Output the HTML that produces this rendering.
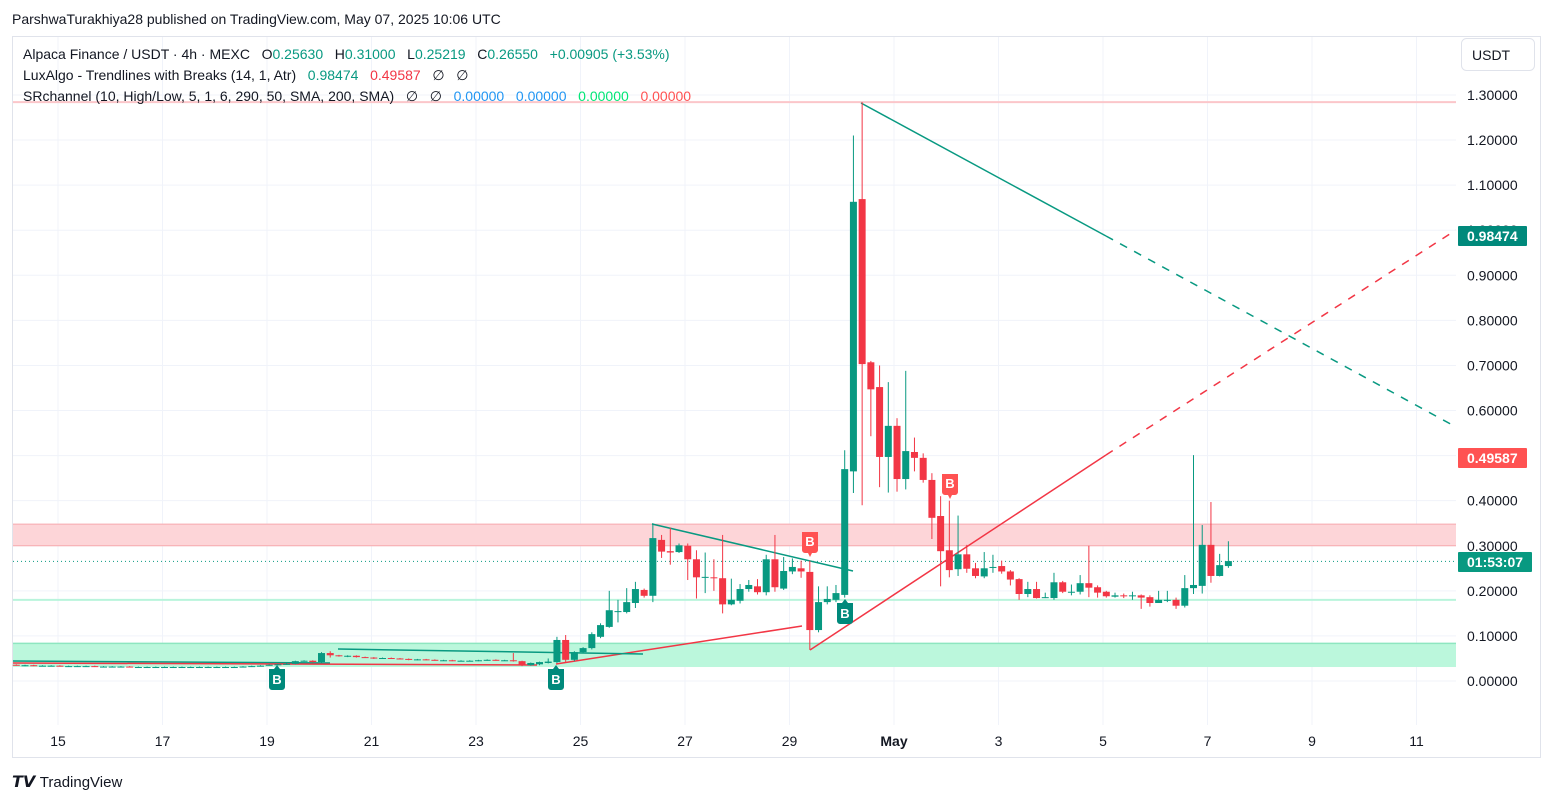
<!DOCTYPE html>
<html><head><meta charset="utf-8"><style>
body{margin:0;background:#fff;font-family:"Liberation Sans",sans-serif;}
svg{display:block}
text{white-space:pre}
</style></head><body>
<svg id="c" width="1554" height="803" xmlns="http://www.w3.org/2000/svg" font-family="Liberation Sans, sans-serif">
<rect x="0" y="0" width="1554" height="803" fill="#fff"/>
<text x="12" y="24" font-size="14" fill="#131722">ParshwaTurakhiya28 published on TradingView.com, May 07, 2025 10:06 UTC</text>
<rect x="12.5" y="36.5" width="1528" height="721" fill="none" stroke="#e0e3eb"/>
<g id="grid"></g>
<g id="zones"></g>
<g id="lines"></g>
<g id="candles"></g>
<g id="labels"></g>
<g id="axis"></g>
<g id="taxis"></g>
<g font-size="14">
<text x="23" y="59" fill="#131722" xml:space="preserve">Alpaca Finance / USDT · 4h · MEXC   O<tspan fill="#089981">0.25630</tspan>   H<tspan fill="#089981">0.31000</tspan>   L<tspan fill="#089981">0.25219</tspan>   C<tspan fill="#089981">0.26550</tspan>   <tspan fill="#089981">+0.00905 (+3.53%)</tspan></text>
<text x="23" y="80" fill="#131722" xml:space="preserve">LuxAlgo - Trendlines with Breaks (14, 1, Atr)   <tspan fill="#089981">0.98474</tspan>   <tspan fill="#f23645">0.49587</tspan>   ∅   ∅</text>
<text x="23" y="101" fill="#131722" xml:space="preserve">SRchannel (10, High/Low, 5, 1, 6, 290, 50, SMA, 200, SMA)   ∅   ∅   <tspan fill="#2196f3">0.00000</tspan>   <tspan fill="#2196f3">0.00000</tspan>   <tspan fill="#00e676">0.00000</tspan>   <tspan fill="#ff5252">0.00000</tspan></text>
</g>
<rect x="1461.5" y="38.5" width="73" height="32" rx="5" fill="#fff" stroke="#e0e3eb"/>
<text x="1472" y="60" font-size="14" fill="#131722">USDT</text>
<text x="12" y="787" font-size="16" font-weight="bold" fill="#131722">𝙏𝙑 <tspan font-weight="normal" font-size="15">TradingView</tspan></text>
</svg>
<script>
const opens =[.036,.035,.035,.034,.034,.034,.033,.033,.033,.033,.032,.032,.032,.032,.031,.031,.031,.031,.031,.031,.031,.031,.031,.031,.031,.031,.032,.032,.033,.034,.036,.037,.038,.044,.045,.042,.062,.057,.055,.056,.053,.052,.050,.051,.050,.049,.047,.048,.047,.046,.046,.045,.045,.045,.046,.047,.046,.046,.044,.035,.037,.040,.042,.091,.047,.064,.073,.098,.120,.155,.153,.173,.202,.189,.313,.288,.286,.300,.270,.230,.230,.228,.170,.178,.204,.210,.197,.270,.205,.243,.250,.242,.113,.175,.180,.191,.465,1.069,.707,.652,.497,.566,.448,.508,.495,.446,.366,.290,.248,.281,.250,.232,.253,.255,.243,.226,.193,.204,.186,.184,.219,.198,.198,.217,.208,.198,.187,.190,.190,.190,.186,.173,.180,.180,.167,.206,.211,.302,.233,.255];
const closes=[.035,.035,.034,.034,.034,.033,.033,.033,.033,.032,.032,.032,.032,.031,.031,.031,.031,.031,.031,.031,.031,.031,.031,.031,.031,.031,.032,.033,.034,.036,.037,.038,.044,.045,.042,.062,.057,.055,.056,.053,.052,.050,.051,.050,.049,.047,.048,.047,.046,.046,.045,.045,.045,.046,.047,.046,.046,.044,.035,.040,.042,.043,.091,.047,.064,.073,.104,.124,.157,.155,.175,.204,.189,.317,.287,.285,.301,.270,.230,.231,.229,.170,.180,.204,.213,.197,.270,.208,.244,.253,.243,.113,.175,.182,.195,.470,1.063,.703,.647,.497,.566,.448,.510,.495,.446,.362,.288,.246,.281,.249,.233,.250,.253,.243,.225,.193,.204,.184,.186,.219,.198,.198,.217,.207,.196,.188,.190,.188,.190,.185,.173,.180,.180,.167,.206,.213,.302,.233,.257,.266];
const highs =[.037,.036,.036,.035,.035,.035,.034,.034,.034,.034,.033,.033,.033,.033,.032,.032,.032,.032,.032,.032,.032,.032,.032,.032,.032,.032,.033,.034,.035,.037,.038,.040,.045,.046,.046,.064,.066,.058,.057,.057,.054,.053,.052,.052,.051,.050,.049,.049,.048,.047,.047,.046,.046,.047,.048,.048,.047,.062,.045,.041,.043,.050,.098,.102,.066,.075,.108,.128,.200,.180,.206,.220,.205,.350,.324,.340,.305,.305,.290,.285,.270,.324,.227,.215,.224,.226,.280,.324,.275,.272,.267,.267,.210,.210,.213,.512,1.210,1.284,.710,.700,.663,.583,.688,.540,.505,.461,.410,.400,.367,.302,.262,.286,.280,.267,.246,.228,.220,.220,.196,.240,.222,.214,.235,.300,.212,.200,.196,.194,.198,.192,.190,.200,.200,.185,.235,.501,.346,.397,.282,.310];
const lows  =[.034,.033,.033,.033,.033,.032,.032,.032,.032,.031,.031,.031,.031,.030,.030,.030,.030,.030,.030,.030,.030,.030,.030,.030,.030,.030,.031,.032,.033,.034,.035,.036,.037,.043,.041,.041,.052,.054,.053,.052,.051,.049,.049,.049,.048,.046,.046,.046,.045,.045,.044,.044,.044,.044,.045,.045,.045,.043,.033,.034,.035,.039,.040,.042,.044,.062,.070,.095,.118,.130,.150,.162,.185,.175,.273,.258,.284,.224,.183,.195,.200,.150,.168,.172,.198,.192,.190,.198,.202,.237,.229,.069,.108,.170,.175,.185,.417,.390,.543,.430,.418,.420,.425,.465,.440,.315,.210,.230,.233,.240,.228,.228,.240,.238,.212,.180,.186,.183,.184,.180,.195,.190,.192,.186,.185,.185,.185,.184,.180,.160,.165,.178,.175,.160,.163,.193,.194,.218,.232,.251];
const priceTicks=[1.3,1.2,1.1,1.0,0.9,0.8,0.7,0.6,0.5,0.4,0.3,0.2,0.1,0.0];
const dayTicks=["15","17","19","21","23","25","27","29","May","3","5","7","9","11"];
const ns="http://www.w3.org/2000/svg";
const y=p=>681-p*450.8;
const xi=i=>16.3+i*8.72;
const xd=k=>58+k*104.5;
function mk(tag,attrs,parent,text){const e=document.createElementNS(ns,tag);for(const k in attrs)e.setAttribute(k,attrs[k]);if(text!==undefined)e.textContent=text;parent.appendChild(e);return e;}
const G=id=>document.getElementById(id);
priceTicks.forEach(p=>{
 let l=mk('line',{x1:13,x2:1456,y1:y(p),y2:y(p),stroke:'#f0f3fa'},G('grid'));
 
 
 let t=mk('text',{x:1467,y:y(p)+5,'font-size':14,fill:'#131722'},G('axis'),p.toFixed(5));
 
 
});
dayTicks.forEach((d,k)=>{
 let l=mk('line',{x1:xd(k),x2:xd(k),y1:37,y2:725,stroke:'#f0f3fa'},G('grid'));
 
 
 let t=mk('text',{x:xd(k),y:746,'font-size':14,fill:'#131722','text-anchor':'middle','font-weight':d==='May'?'bold':'normal'},G('taxis'),d);
 
 
});
const Z=G('zones');
let r;
r=mk('rect',{x:13,y:y(0.0835),width:1443,height:y(0.031)-y(0.0835),fill:'#bbf7dc'},Z);
mk('line',{x1:13,x2:1456,y1:y(0.0835),y2:y(0.0835),stroke:'#8ee6c0','stroke-width':1.5},Z);
r=mk('rect',{x:13,y:y(0.348),width:1443,height:y(0.300)-y(0.348),fill:'#fdd5d8'},Z);
mk('line',{x1:13,x2:1456,y1:y(0.348),y2:y(0.348),stroke:'#f7a9ae'},Z);
mk('line',{x1:13,x2:1456,y1:y(0.300),y2:y(0.300),stroke:'#f7a9ae'},Z);
r=mk('line',{x1:13,x2:1456,y1:y(1.284),y2:y(1.284),stroke:'#fbc6ca','stroke-width':2},Z);
r=mk('line',{x1:13,x2:1456,y1:y(0.18),y2:y(0.18),stroke:'#b9f4dc','stroke-width':2},Z);
r=mk('line',{x1:13,x2:1456,y1:y(0.2655),y2:y(0.2655),stroke:'#089981','stroke-dasharray':'1 3'},Z);
const L=G('lines');
const seg=(a,b,c,d,col,dash,name)=>{let e=mk('line',{x1:a,y1:b,x2:c,y2:d,stroke:col,'stroke-width':1.5},L);if(dash)e.setAttribute('stroke-dasharray','8 8');};
seg(861,103,1106,236,'#089981',0,'upper-trendline');
seg(1106,236,1456,427,'#089981',1,'upper-trendline-ext');
seg(810,650,1106,455,'#f23645',0,'lower-trendline');
seg(1106,455,1456,230,'#f23645',1,'lower-trendline-ext');
seg(652,524,853,571,'#089981',0,'upper-trendline-old');
seg(556,664,802,626,'#f23645',0,'lower-trendline-old');
seg(338,649,643,654,'#089981',0,'upper-trendline-early');
seg(13,661,330,663,'#089981',0,'upper-trendline-first');
seg(13,663,537,665,'#f23645',0,'lower-trendline-first');
const C=G('candles');
opens.forEach((o,i)=>{
 const c=closes[i],up=c>=o,col=up?'#089981':'#f23645',x=xi(i);
 let w=mk('line',{x1:x,x2:x,y1:y(highs[i]),y2:y(lows[i]),stroke:col,'stroke-width':1},C);
 
 
 let t=Math.min(y(o),y(c)),h=Math.max(1,Math.abs(y(o)-y(c)));
 let b=mk('rect',{x:x-3.5,y:t,width:7,height:h,fill:col},C);
 
 
});
const LB=G('labels');
function lab(x,yy,up,col){
 const g=mk('g',{},LB);
 
 
 if(up){mk('path',{d:`M${x-8},${yy+4} h5 l3,-4 l3,4 h5 v18 a3,3 0 0 1 -3,3 h-10 a3,3 0 0 1 -3,-3 z`,fill:col},g);mk('text',{x:x,y:yy+19,'font-size':13,fill:'#fff','text-anchor':'middle','font-weight':'bold'},g,'B');}
 else{mk('path',{d:`M${x-8},${yy-25} h16 v18 a3,3 0 0 1 -3,3 h-3 l-2,4 l-2,-4 h-3 a3,3 0 0 1 -3,-3 z`,fill:col},g);mk('text',{x:x,y:yy-11,'font-size':13,fill:'#fff','text-anchor':'middle','font-weight':'bold'},g,'B');}
}
lab(277,665,true,'#00897b');lab(556,665,true,'#00897b');lab(845,599,true,'#00897b');
lab(810,557,false,'#ff5252');lab(950,499,false,'#ff5252');
const A=G('axis');
function tag(yy,col,txt,w,name){const g=mk('g',{},A);mk('rect',{x:1458,y:yy-10,width:w,height:20,fill:col,rx:1},g);mk('text',{x:1467,y:yy+5,'font-size':14,'font-weight':'bold',fill:'#fff'},g,txt);}
tag(236,'#00897b','0.98474',69,'upper-trendline-value');
tag(458,'#ff5252','0.49587',69,'lower-trendline-value');
tag(562,'#089981','01:53:07',74,'countdown-tag');
</script>
</body></html>
